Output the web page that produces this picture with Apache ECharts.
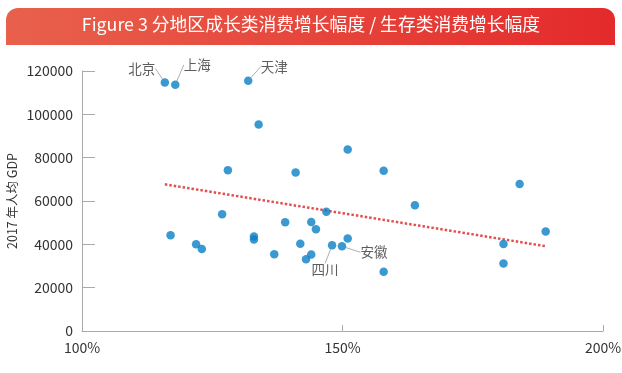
<!DOCTYPE html>
<html>
<head>
<meta charset="utf-8">
<script src="https://cdn.jsdelivr.net/npm/echarts@6/dist/echarts.min.js"></script>
<style>
html,body{margin:0;padding:0;background:#fff;}
#chart{width:622px;height:373px;}
</style>
</head>
<body>
<div id="chart"></div>
<script>
// Ratio of growth-type to survival-type consumption growth (%)
const growthRatio = [115.9, 117.9, 131.9, 148.0, 149.9,
  133.9, 128.0, 141.0, 117.0, 121.9, 123.0, 126.9, 133.0, 133.0, 136.9, 139.0,
  141.9, 144.0, 144.9, 143.0, 144.0, 146.9, 151.0, 151.0, 157.9, 163.9, 184.0,
  189.0, 180.9, 180.9, 157.9];
// 2017 per-capita GDP (yuan)
const gdp2017 = [114700, 113600, 115500, 39600, 39100,
  95300, 74200, 73100, 44200, 40000, 37900, 53900, 43600, 42200, 35400, 50200,
  40300, 50300, 47000, 33100, 35300, 55000, 42700, 83800, 74000, 58000, 67900,
  45900, 40200, 31100, 27400];
const pointNames = ['北京', '上海', '天津', '四川', '安徽'];
const trendX = [115.9, 189.1];
const trendY = [67700, 39100];
const xTicks = [100, 150, 200];
const yTicks = [0, 20000, 40000, 60000, 80000, 100000, 120000];
const titleText = 'Figure 3 分地区成长类消费增长幅度 / 生存类消费增长幅度';
const yAxisName = '2017 年人均 GDP';

const labelOffsets = {
  '北京': [-23, -14],
  '上海': [22, -20],
  '天津': [26, -14],
  '四川': [-7, 25],
  '安徽': [32, 6]
};

const scatterData = growthRatio.map((x, i) => ({
  value: [x, gdp2017[i]],
  name: pointNames[i] || '',
  label: { show: !!pointNames[i] }
}));

const chart = echarts.init(document.getElementById('chart'));
const font = '"Noto Sans CJK SC", "Noto Sans", sans-serif';
chart.setOption({
  animation: false,
  textStyle: { fontFamily: font },
  graphic: [
    {
      type: 'rect',
      left: 6, top: 8,
      shape: { width: 609, height: 37, r: [12, 12, 0, 0] },
      style: {
        fill: new echarts.graphic.LinearGradient(0, 0, 1, 0, [
          { offset: 0, color: '#e8614c' },
          { offset: 1, color: '#e42a2b' }
        ])
      },
      z: 10
    },
    {
      type: 'text',
      left: 'center', top: 15,
      style: { text: titleText, fill: '#ffffff', font: '17.8px ' + font },
      z: 11
    }
  ],
  grid: { left: 82, right: 19, top: 71, bottom: 42, containLabel: false, outerBoundsMode: 'none' },
  xAxis: {
    type: 'value',
    min: xTicks[0], max: xTicks[xTicks.length - 1], interval: xTicks[1] - xTicks[0],
    axisLine: { lineStyle: { color: '#aaaaaa', width: 1 } },
    axisTick: { show: true, inside: true, length: 6, lineStyle: { color: '#aaaaaa' } },
    splitLine: { show: false },
    axisLabel: { formatter: '{value}%', color: '#333', fontSize: 14, margin: 10, fontFamily: font }
  },
  yAxis: {
    type: 'value',
    min: yTicks[0], max: yTicks[yTicks.length - 1], interval: yTicks[1] - yTicks[0],
    name: yAxisName, nameLocation: 'middle', nameRotate: 90, nameGap: 63,
    nameMoveOverlap: false,
    nameTextStyle: { color: '#333', fontSize: 12.5, fontFamily: font },
    axisLine: { show: true, lineStyle: { color: '#aaaaaa', width: 1 } },
    axisTick: { show: true, inside: true, length: 13, lineStyle: { color: '#aaaaaa' } },
    splitLine: { show: false },
    axisLabel: { formatter: v => String(v), color: '#333', fontSize: 14, margin: 9, fontFamily: font }
  },
  series: [
    {
      type: 'line',
      data: trendX.map((x, i) => [x, trendY[i]]),
      symbol: 'none',
      lineStyle: { color: '#e0504e', width: 2.5, type: [2.5, 2] },
      z: 2
    },
    {
      type: 'scatter',
      data: scatterData,
      symbolSize: 8.5,
      itemStyle: { color: '#0a7fc6' },
      label: {
        formatter: '{b}', position: 'inside', color: '#333', fontSize: 13.5, fontFamily: font
      },
      labelLine: { show: true, lineStyle: { color: '#999', width: 0.8 } },
      labelLayout: function (p) {
        const name = pointNames[p.dataIndex];
        const off = labelOffsets[name] || [0, 0];
        return { dx: off[0], dy: off[1] };
      },
      z: 3
    }
  ]
});
</script>
</body>
</html>
